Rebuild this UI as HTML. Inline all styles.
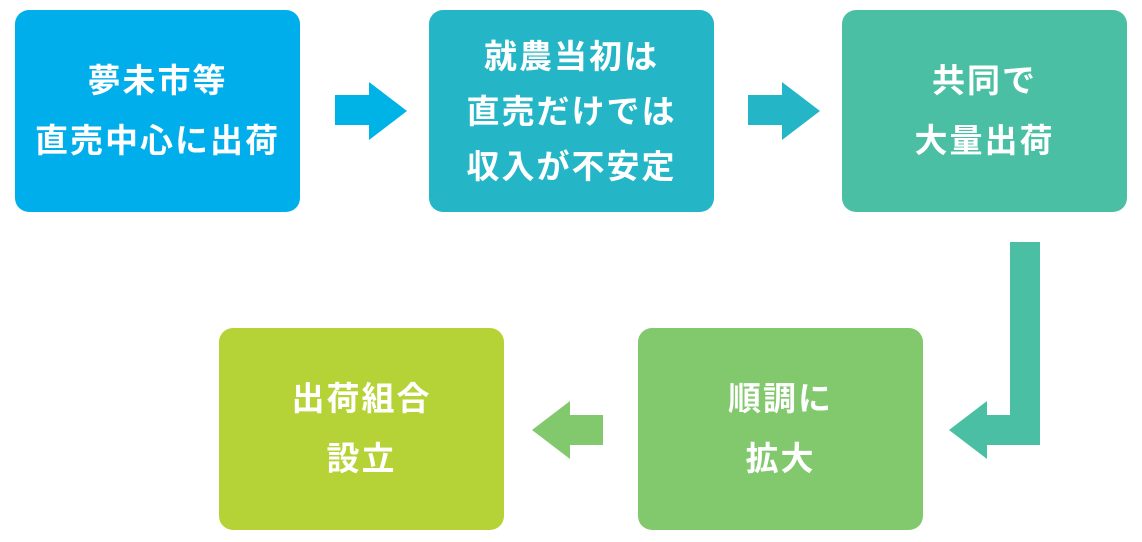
<!DOCTYPE html><html><head><meta charset="utf-8"><style>
body{margin:0;width:1142px;height:542px;background:#fff;position:relative;overflow:hidden;font-family:"Liberation Sans","Noto Sans CJK JP",sans-serif}
.b{position:absolute;width:285px;height:202px;border-radius:14px;color:#fff;font-weight:bold;font-size:33px;display:flex;align-items:center;justify-content:center;text-align:center;letter-spacing:2px}
svg{position:absolute;left:0;top:0}
</style></head><body>
<div class="b" style="left:15px;top:10px;background:#00AEEB;line-height:60px">夢未市等<br>直売中心に出荷</div>
<div class="b" style="left:429px;top:10px;background:#24B6C7;line-height:55px">就農当初は<br>直売だけでは<br>収入が不安定</div>
<div class="b" style="left:842px;top:10px;background:#4ABFA3;line-height:60px">共同で<br>大量出荷</div>
<div class="b" style="left:638px;top:328px;background:#82C96E;line-height:60px">順調に<br>拡大</div>
<div class="b" style="left:219px;top:328px;background:#B5D336;line-height:60px">出荷組合<br>設立</div>
<svg width="1142" height="542">
<polygon points="335,95 369,95 369,82 407,111 369,140 369,125 335,125" fill="#00B3E6"/>
<polygon points="748,95 782,95 782,82 820,111 782,140 782,125 748,125" fill="#24B6C7"/>
<polygon points="1010,242 1040,242 1040,445 987,445 987,459 949,430 987,401 987,415 1010,415" fill="#4ABFA3"/>
<polygon points="603,415 570,415 570,401 532,430 570,459 570,445 603,445" fill="#82C96E"/>
</svg>
</body></html>
